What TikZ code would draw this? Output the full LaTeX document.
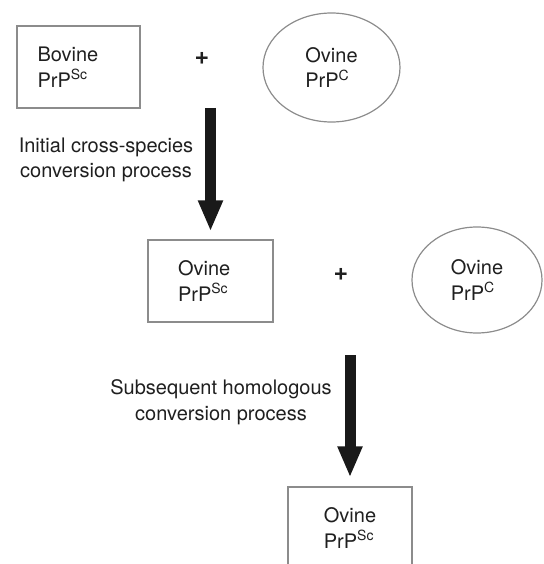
\documentclass[tikz,border=0pt]{standalone}
\usepackage{fontspec}
\setmainfont{TeX Gyre Heros}
\usetikzlibrary{arrows.meta,shapes.geometric}

\newcommand{\prpfont}{\fontsize{20}{25.5}\selectfont}

\tikzset{
	prpbox/.style={draw=black!45, line width=1.2pt, minimum width=123pt, minimum height=82pt, inner sep=0pt, align=left, text=black!88, font=\prpfont},
	prpoval/.style={ellipse, draw=black!45, line width=1.2pt, inner sep=0pt, align=left, text=black!88, font=\prpfont},
	plussign/.style={inner sep=0pt, text=black!88, font=\fontsize{25}{25}\selectfont\bfseries},
	proclabel/.style={inner sep=0pt, align=center, text=black!88, font=\prpfont},
	bigarrow/.style={draw=black!90, line width=11pt, -{Triangle[length=31pt,width=23pt]}}
}

\begin{document}
\begin{tikzpicture}[x=1pt,y=-1pt]
	\useasboundingbox (0,0) rectangle (543,564);
	\clip (0,0) rectangle (543,564);

	% Top row: bovine PrPSc meets ovine PrPC
	\node[prpbox, text width=82pt] (bovsc) at (78.5,67) {Bovine\\PrP\textsuperscript{Sc}};
	\node[plussign] (plusA) at (202,58) {+};
	\node[prpoval, minimum width=137pt, minimum height=109pt] (ovcA) at (331.5,67.5) {Ovine\\PrP\textsuperscript{C}};

	% First conversion step
	\coordinate (arrA) at (210.5,108);
	\node[proclabel] (lblA) at (106,160) {Initial cross-species\\conversion process};

	% Middle row: ovine PrPSc meets ovine PrPC
	\node[prpbox, minimum width=125pt, text width=65pt] (ovscA) at (210.5,281) {Ovine\\PrP\textsuperscript{Sc}};
	\node[plussign] (plusB) at (341,274) {+};
	\node[prpoval, minimum width=130pt, minimum height=106pt] (ovcB) at (477,280) {Ovine\\PrP\textsuperscript{C}};

	\draw[bigarrow, shorten >=8pt] (arrA) -- (ovscA.north);

	% Second conversion step
	\coordinate (arrB) at (350,355);
	\node[proclabel] (lblB) at (221,402) {Subsequent homologous\\conversion process};

	% Bottom row: ovine PrPSc only
	\node[prpbox, minimum width=124pt] (ovscB) at (350,528) {Ovine\\PrP\textsuperscript{Sc}};

	\draw[bigarrow, shorten >=9pt] (arrB) -- (ovscB.north);
\end{tikzpicture}
\end{document}
